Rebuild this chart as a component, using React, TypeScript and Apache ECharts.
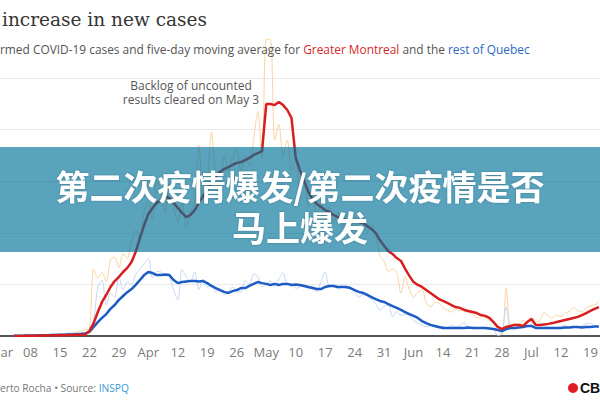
import React, { useEffect, useRef } from 'react';
import * as echarts from 'echarts';

// Weekly tick labels (Sundays), starting Mar 1 (day 0)
const tickLabels = ['Mar', '08', '15', '22', '29', 'Apr', '12', '19', '26', 'May', '10', '17', '24', '31', 'Jun', '14', '21', '28', 'Jul', '12', '19'];
const tickDays = tickLabels.map((_, i) => i * 7);

// first data day (days after Mar 1)
const startDay = 3;

// Greater Montreal – daily cases
const montrealDaily = [
  0, 0, 1, 2, 1, 3, 2, 4, 5, 3, 6, 8, 7, 10, 12, 15, 20,
  25, 30, 260, 225, 245, 210, 295, 305, 265, 320,
  300, 370, 410, 380, 480, 520, 450, 600, 560, 480,
  590, 500, 440, 520, 420, 480, 520, 740, 540, 600,
  790, 620, 580, 700, 640, 690, 720, 640, 700, 660,
  760, 870, 690, 1150, 1150, 760, 820, 700, 760, 640,
  680, 560, 610, 500, 540, 470, 520, 430, 500, 440,
  480, 420, 470, 410, 460, 420, 440, 400, 430, 390,
  310, 290, 250, 260, 248, 167, 229, 180, 151, 170,
  178, 130, 112, 130, 128, 110, 100, 93, 105, 97,
  109, 90, 85, 70, 74, 73, 60, 54, 20, 5,
  186, 40, 50, 45, 60, 52, 74, 55, 60, 90,
  78, 70, 82, 75, 89, 95, 109, 100, 93, 110,
  118, 120, 132,
];

// Rest of Quebec – daily cases
const restDaily = [
  1, 2, 1, 3, 2, 4, 3, 5, 4, 6, 8, 7, 9, 11, 10, 12, 14,
  12, 25, 60, 190, 215, 120, 165, 150, 230, 180,
  210, 200, 240, 260, 280, 300, 225, 250, 248, 235,
  230, 180, 140, 257, 230, 210, 248, 180, 220, 190,
  200, 170, 185, 160, 170, 190, 175, 170, 215, 200,
  240, 230, 190, 200, 215, 190, 220, 245, 200, 205,
  185, 190, 200, 180, 195, 170, 210, 248, 190, 200,
  180, 195, 185, 190, 170, 150, 160, 155, 140, 125,
  100, 115, 120, 75, 95, 80, 85, 80, 60, 50,
  43, 35, 40, 35, 30, 38, 30, 43, 35, 40,
  54, 30, 35, 32, 30, 33, 30, 25, 2, 10,
  112, 30, 28, 33, 35, 40, 35, 30, 33, 28,
  35, 31, 28, 35, 43, 32, 38, 35, 40, 47,
  50, 38, 35,
];

// Greater Montreal – five-day moving average
const montrealAvg = [
  0, 0, 0, 1, 1, 1, 1, 2, 2, 2, 3, 3, 3, 4, 4, 5, 5,
  6, 19, 50, 93, 132, 159, 190, 213, 229, 248,
  264, 287, 326, 380, 430, 473, 496, 516, 527, 540,
  535, 516, 496, 477, 461, 469, 488, 516, 543, 566,
  593, 616, 636, 647, 655, 663, 671, 674, 682, 690,
  702, 709, 717, 899, 899, 895, 907, 895, 876, 845,
  690, 643, 601, 558, 531, 512, 500, 488, 481, 469,
  461, 453, 450, 446, 446, 442, 438, 426, 415, 399,
  372, 349, 329, 318, 302, 291, 260, 233, 209, 198,
  190, 178, 167, 155, 143, 136, 128, 120, 112, 109,
  101, 97, 93, 89, 81, 78, 70, 54, 35, 27,
  35, 39, 43, 43, 39, 54, 66, 43, 43, 45,
  47, 50, 54, 58, 62, 66, 70, 74, 81, 89,
  97, 105, 112,
];

// Rest of Quebec – five-day moving average
const restAvg = [
  1, 1, 1, 2, 2, 2, 3, 3, 3, 4, 4, 5, 5, 6, 6, 7, 8,
  10, 16, 35, 54, 70, 85, 105, 120, 140, 155,
  170, 182, 198, 217, 236, 248, 244, 236, 236, 238,
  236, 217, 205, 209, 211, 213, 213, 211, 213, 205,
  194, 186, 178, 171, 167, 174, 178, 186, 186, 194,
  202, 209, 205, 202, 198, 202, 198, 202, 202, 198,
  200, 198, 194, 190, 186, 182, 182, 190, 194, 194,
  190, 190, 190, 186, 178, 171, 167, 159, 151, 143,
  136, 132, 124, 116, 109, 101, 93, 85, 78, 70,
  58, 50, 43, 39, 35, 31, 31, 31, 31, 31,
  31, 33, 31, 31, 31, 31, 29, 27, 23, 19,
  27, 31, 31, 33, 35, 39, 39, 31, 31, 31,
  31, 31, 31, 31, 33, 33, 35, 35, 33, 35,
  35, 37, 37,
];

const toPairs = (arr: number[]) => arr.map((v, i) => [startDay + i, v]);

const FONT = '"Open Sans", "Noto Sans", sans-serif';

export default function App() {
  const ref = useRef<HTMLDivElement>(null);

  useEffect(() => {
    const chart = echarts.init(ref.current!, undefined, { renderer: 'svg' });
    const option: any = {
      animation: false,
      backgroundColor: '#ffffff',
      textStyle: { fontFamily: FONT },
      grid: { left: 0, right: 0, top: 78, bottom: 64, containLabel: false, outerBoundsMode: 'none' },
      xAxis: {
        type: 'value',
        min: -0.24,
        max: 142.28,
        axisLine: { show: true, lineStyle: { color: '#555', width: 2 } },
        axisTick: { show: false },
        splitLine: { show: false },
        axisLabel: {
          customValues: tickDays,
          formatter: (v: number) => tickLabels[Math.round(v / 7)] ?? '',
          color: '#7a7a7a',
          fontSize: 13,
          fontFamily: FONT,
          margin: 9,
          hideOverlap: false,
        },
      },
      yAxis: {
        type: 'value',
        min: 0,
        max: 1000,
        interval: 200,
        axisLabel: { show: false },
        axisLine: { show: false },
        axisTick: { show: false },
        splitLine: { lineStyle: { color: '#e9e9e9', width: 1 } },
      },
      series: [
        {
          name: 'Greater Montreal daily',
          type: 'line',
          data: toPairs(montrealDaily),
          showSymbol: false,
          smooth: 0.3,
          clip: false,
          lineStyle: { color: '#fbd4a0', width: 1 },
          z: 1,
        },
        {
          name: 'Rest of Quebec daily',
          type: 'line',
          data: toPairs(restDaily),
          showSymbol: false,
          smooth: 0.3,
          clip: false,
          lineStyle: { color: '#c6d8f6', width: 1 },
          z: 1,
        },
        {
          name: 'Rest of Quebec average',
          type: 'line',
          data: toPairs(restAvg),
          showSymbol: false,
          lineStyle: { color: '#1d5cc4', width: 2.5 },
          z: 3,
        },
        {
          name: 'Greater Montreal average',
          type: 'line',
          data: toPairs(montrealAvg),
          showSymbol: false,
          lineStyle: { color: '#d81e1e', width: 2.5 },
          z: 4,
        },
      ],
      graphic: [
        {
          type: 'text',
          x: 2,
          y: 19,
          z: 50,
          style: {
            text: 'increase in new cases',
            font: '18.5px "DejaVu Serif", serif',
            fill: '#353535',
            textAlign: 'left',
            textVerticalAlign: 'middle',
          },
        },
        {
          type: 'text',
          x: 0,
          y: 49,
          z: 50,
          style: {
            text: '{g|rmed COVID-19 cases and five-day moving average for }{r|Greater Montreal}{g| and the }{b|rest of Quebec}',
            textAlign: 'left',
            textVerticalAlign: 'middle',
            rich: {
              g: { fill: '#555', fontSize: 11.9, fontFamily: FONT },
              r: { fill: '#d42a2a', fontSize: 11.9, fontFamily: FONT },
              b: { fill: '#2b67c6', fontSize: 11.9, fontFamily: FONT },
            },
          },
        },
        {
          type: 'text',
          x: 191,
          y: 92,
          z: 50,
          style: {
            text: 'Backlog of uncounted\nresults cleared on May 3',
            fill: '#555',
            fontSize: 12,
            fontFamily: FONT,
            lineHeight: 14,
            textAlign: 'center',
            textVerticalAlign: 'middle',
          },
        },
        {
          type: 'rect',
          z: 100,
          shape: { x: 0, y: 147, width: 600, height: 105 },
          style: { fill: 'rgba(0,114,154,0.65)' },
        },
        {
          type: 'text',
          x: 300,
          y: 185,
          z: 101,
          style: {
            text: '第二次疫情爆发/第二次疫情是否',
            fill: '#ffffff',
            font: 'bold 34px "Noto Sans CJK SC", sans-serif',
            textAlign: 'center',
            textVerticalAlign: 'middle',
            textShadowColor: 'rgba(0,0,0,0.25)',
            textShadowBlur: 2,
          },
        },
        {
          type: 'text',
          x: 300,
          y: 226,
          z: 101,
          style: {
            text: '马上爆发',
            fill: '#ffffff',
            font: 'bold 34px "Noto Sans CJK SC", sans-serif',
            textAlign: 'center',
            textVerticalAlign: 'middle',
            textShadowColor: 'rgba(0,0,0,0.25)',
            textShadowBlur: 2,
          },
        },
        {
          type: 'text',
          x: 0,
          y: 388,
          z: 50,
          style: {
            text: '{g|erto Rocha • Source: }{b|INSPQ}',
            textAlign: 'left',
            textVerticalAlign: 'middle',
            rich: {
              g: { fill: '#777', fontSize: 10.2, fontFamily: FONT },
              b: { fill: '#3a98d4', fontSize: 10.2, fontFamily: FONT },
            },
          },
        },
        {
          type: 'circle',
          z: 50,
          shape: { cx: 573, cy: 388, r: 5 },
          style: { fill: '#e31b23' },
        },
        {
          type: 'text',
          x: 580,
          y: 388,
          z: 50,
          style: {
            text: 'CBC',
            fill: '#111',
            font: 'bold 14px "Liberation Sans", Arial, sans-serif',
            textAlign: 'left',
            textVerticalAlign: 'middle',
          },
        },
      ],
    };
    chart.setOption(option);
    return () => chart.dispose();
  }, []);

  return (
    <div
      ref={ref}
      style={{ width: 600, height: 400, position: 'absolute', left: 0, top: 0 }}
    />
  );
}
